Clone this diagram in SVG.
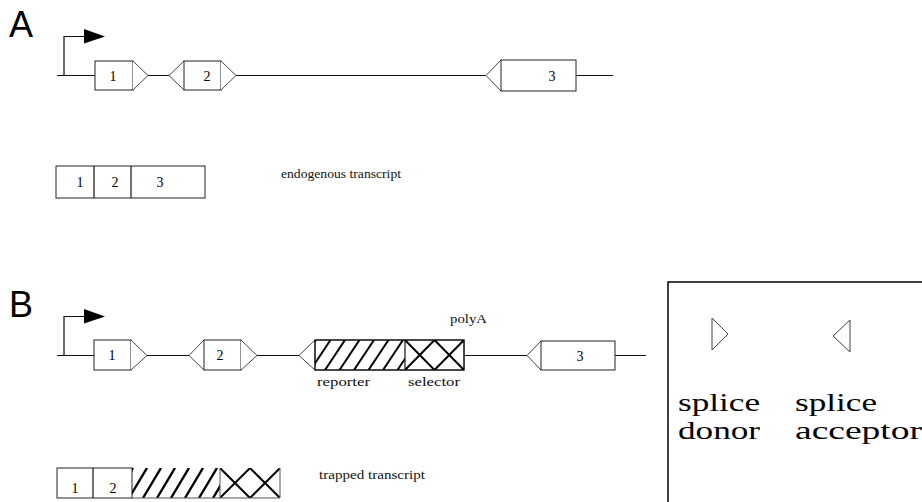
<svg xmlns="http://www.w3.org/2000/svg" width="922" height="502" viewBox="0 0 922 502">
<style>
.ln{stroke:#111;stroke-width:1.2;fill:none}
.bx{stroke:#222;stroke-width:1;fill:#fff}
.tri{stroke:#444;stroke-width:1;fill:#fff}
.ht{stroke:#000;stroke-width:2;fill:none}
.num{font-family:"Liberation Serif",serif;font-size:14px;fill:#000;text-anchor:middle}
.lbl{font-family:"Liberation Serif",serif;font-size:12px;fill:#111}
.big{font-family:"Liberation Sans",Arial,sans-serif;font-size:36px;fill:#000}
.leg{font-family:"Liberation Serif",serif;font-size:25px;fill:#000}
</style>
<defs>
<clipPath id="cRepB"><rect x="315" y="340" width="90" height="30"/></clipPath>
<clipPath id="cSelB"><rect x="405" y="340" width="59" height="30"/></clipPath>
<clipPath id="cRepT"><rect x="132" y="468" width="88" height="30"/></clipPath>
<clipPath id="cSelT"><rect x="220" y="468" width="60" height="30"/></clipPath>
</defs>
<rect width="922" height="502" fill="#fff"/>

<text class="big" x="9" y="37">A</text>
<text class="big" x="9" y="317">B</text>

<g id="connectors">
<path class="ln" d="M57 75.5H95 M148 75.5H169 M236 75.5H486 M576 75.5H613"/>
<path class="ln" d="M57 355.5H94 M147 355.5H189 M257 355.5H299 M464 355.5H527 M615 355.5H646"/>
</g>

<g id="promoterA">
<path class="ln" d="M64 75.5V36.5H86"/>
<path d="M84 29L105 36.5L84 43.5Z" fill="#000"/>
</g>
<g id="promoterB">
<path class="ln" d="M64 355.5V316.5H86"/>
<path d="M84 309L105 316.5L84 323.5Z" fill="#000"/>
</g>

<g id="A-exon1">
<rect class="bx" x="95" y="61" width="38" height="29"/>
<path class="tri" d="M133 61L148 75.5L133 90"/>
<text class="num" x="113" y="81">1</text>
</g>
<g id="A-exon2">
<path class="tri" d="M184 61L169 75.5L184 90"/>
<rect class="bx" x="184" y="61" width="37" height="29"/>
<path class="tri" d="M221 61L236 75.5L221 90"/>
<text class="num" x="207" y="81">2</text>
</g>
<g id="A-exon3">
<path class="tri" d="M501 60L486 75.5L501 91"/>
<rect class="bx" x="501" y="60" width="75" height="31"/>
<text class="num" x="552" y="81">3</text>
</g>

<g id="A-transcript">
<rect class="bx" x="56" y="166" width="149" height="32"/>
<path class="ln" d="M94 166V198 M131 166V198"/>
<text class="num" x="80" y="187">1</text>
<text class="num" x="115" y="187">2</text>
<text class="num" x="160" y="187">3</text>
</g>
<text id="A-label" class="lbl" x="281" y="178" font-size="14" textLength="120" lengthAdjust="spacingAndGlyphs">endogenous transcript</text>

<g id="B-exon1">
<rect class="bx" x="94" y="340" width="37" height="30"/>
<path class="tri" d="M131 340L147 355.5L131 370"/>
<text class="num" x="112" y="360">1</text>
</g>
<g id="B-exon2">
<path class="tri" d="M204 340L189 355.5L204 370"/>
<rect class="bx" x="204" y="340" width="37" height="30"/>
<path class="tri" d="M241 340L257 355.5L241 370"/>
<text class="num" x="220" y="360">2</text>
</g>
<g id="B-trap">
<path class="tri" d="M315 340L299 355.5L315 370"/>
<rect class="bx" x="315" y="340" width="149" height="30"/>
<g clip-path="url(#cRepB)" class="ht">
<path d="M296 370L316 340 M310.5 370L330.5 340 M325 370L345 340 M339.5 370L359.5 340 M354 370L374 340 M368.5 370L388.5 340 M383 370L403 340 M397.5 370L417.5 340"/>
</g>
<g clip-path="url(#cSelB)" class="ht">
<path d="M405 340L434.5 370 M405 370L434.5 340 M434.5 340L464 370 M434.5 370L464 340"/>
</g>
<rect x="315" y="340" width="149" height="30" fill="none" stroke="#000" stroke-width="1"/>
<path class="ln" d="M405 340V370"/>
<text class="lbl" x="450" y="323" font-size="12" textLength="37" lengthAdjust="spacingAndGlyphs">polyA</text>
<text class="lbl" x="317" y="386" font-size="12" textLength="53" lengthAdjust="spacingAndGlyphs">reporter</text>
<text class="lbl" x="408" y="386" font-size="12" textLength="52" lengthAdjust="spacingAndGlyphs">selector</text>
</g>
<g id="B-exon3">
<path class="tri" d="M541 341L527 355.5L541 370"/>
<rect class="bx" x="541" y="341" width="74" height="29"/>
<text class="num" x="580" y="361">3</text>
</g>

<g id="B-transcript">
<rect class="bx" x="57" y="468" width="75" height="30"/>
<path class="ln" d="M93 468V498"/>
<g clip-path="url(#cRepT)" class="ht" style="stroke-width:2.4">
<path d="M115 498L133 468 M129 498L147 468 M143 498L161 468 M157 498L175 468 M171 498L189 468 M185 498L203 468 M199 498L217 468 M213 498L231 468"/>
</g>
<g clip-path="url(#cSelT)" class="ht">
<path d="M220 468L250 498 M220 498L250 468 M250 468L280 498 M250 498L280 468"/>
</g>
<path d="M220 468V498 M280 468V498 M132 498H280" stroke="#555" stroke-width="1" fill="none"/>
<text class="num" x="75" y="493">1</text>
<text class="num" x="113" y="493">2</text>
</g>
<text id="B-label" class="lbl" x="319" y="479" font-size="14.5" textLength="106" lengthAdjust="spacingAndGlyphs">trapped transcript</text>

<g id="legend">
<rect x="668" y="282" width="262" height="232" fill="none" stroke="#000" stroke-width="1.5"/>
<path d="M712 318V350 M712 318L728 334L712 350" stroke="#444" stroke-width="1" fill="none"/>
<path d="M850 320V352 M850 320L833 336L850 352" stroke="#444" stroke-width="1" fill="none"/>
<text class="leg" x="678" y="411" textLength="82" lengthAdjust="spacingAndGlyphs">splice</text>
<text class="leg" x="678" y="439" textLength="82" lengthAdjust="spacingAndGlyphs">donor</text>
<text class="leg" x="795" y="411" textLength="82" lengthAdjust="spacingAndGlyphs">splice</text>
<text class="leg" x="795" y="439" textLength="127" lengthAdjust="spacingAndGlyphs">acceptor</text>
</g>
</svg>
